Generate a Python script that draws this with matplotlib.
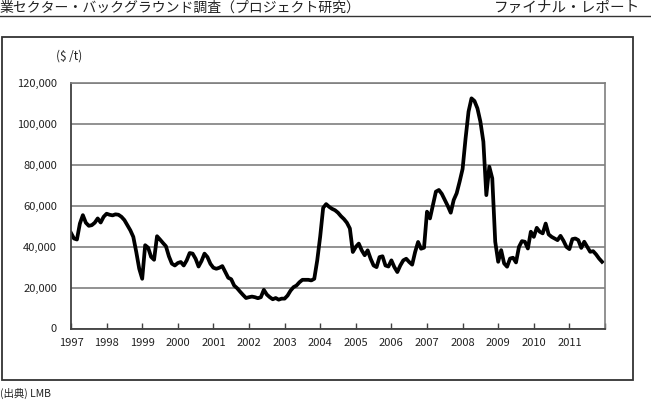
import matplotlib
matplotlib.use('Agg')
import matplotlib.pyplot as plt
from matplotlib.lines import Line2D
from matplotlib.patches import Rectangle
import numpy as np

plt.rcParams['font.family'] = ['Noto Sans CJK JP', 'DejaVu Sans']

# monthly price ($/t), Jan 1997 - Dec 2011
years = list(range(1997, 2012))
p1997 = [46700, 44000, 43500, 51300, 55400, 51700, 50200, 50500, 51700, 53800, 51800, 54600]
p1998 = [56100, 55600, 55300, 55800, 55600, 54600, 53000, 50500, 48000, 44800, 37400, 29200]
p1999 = [24300, 40700, 39500, 35000, 33600, 45100, 43500, 41800, 40200, 35300, 31700, 30800]
p2000 = [32000, 32500, 30800, 33300, 36900, 36600, 34100, 30300, 33000, 36600, 34900, 31600]
p2001 = [29700, 29200, 29700, 30500, 27600, 24800, 24100, 21000, 19700, 18000, 16400, 14900]
p2002 = [15300, 15600, 15300, 14800, 15300, 18900, 16600, 15300, 14300, 14900, 14100, 14600]
p2003 = [14600, 16100, 18500, 20200, 21000, 22600, 23800, 23800, 23800, 23500, 24300, 33300]
p2004 = [45000, 59000, 60800, 59500, 58500, 57800, 56600, 54900, 53500, 51700, 48900, 37400]
p2005 = [39900, 41500, 38200, 35800, 38200, 34100, 30800, 30000, 34900, 35300, 30800, 30300]
p2006 = [33300, 30000, 27600, 30800, 33300, 34100, 32500, 31200, 37400, 42300, 39000, 39500]
p2007 = [57100, 53800, 60400, 66900, 67700, 65800, 62800, 59900, 56600, 62800, 66100, 71800]
p2008 = [78000, 92900, 106000, 112500, 111200, 107600, 101100, 91300, 65200, 79100, 73400, 42400]
p2009 = [32600, 38300, 31800, 30200, 34200, 34600, 32300, 39900, 42700, 42400, 39100, 47300]
p2010 = [44800, 49200, 47300, 46500, 51300, 46000, 44800, 44000, 43200, 45300, 42900, 39900]
p2011 = [38800, 43700, 44000, 43200, 39400, 42400, 39900, 37500, 37800, 36200, 34200, 32600]

prices = (p1997 + p1998 + p1999 + p2000 + p2001 + p2002 + p2003 + p2004
          + p2005 + p2006 + p2007 + p2008 + p2009 + p2010 + p2011)
t = 1997 + np.arange(len(prices)) / 12.0

y_ticks = [0, 20000, 40000, 60000, 80000, 100000, 120000]
y_labels = ['0', '20,000', '40,000', '60,000', '80,000', '100,000', '120,000']

W, H = 651, 401
fig = plt.figure(figsize=(W / 100, H / 100), dpi=100)

# page header
fig.text(0.0, 1 - 7.5 / H, '業セクター・バックグラウンド調査（プロジェクト研究）',
         fontsize=10, va='center', ha='left', color='#222222')
fig.text(640 / W, 1 - 7.5 / H, 'ファイナル・レポート',
         fontsize=10.5, va='center', ha='right', color='#222222')
fig.add_artist(Line2D([0, 1], [1 - 15.5 / H, 1 - 15.5 / H], color='#333333', lw=1.0))

# frame around chart
fig.add_artist(Rectangle((2 / W, 1 - 379.5 / H), 631 / W, 343 / H,
                         fill=False, edgecolor='#333333', lw=1.3))

ax = fig.add_axes([71 / W, 1 - 328.5 / H, 534 / W, 245.5 / H])
ax.plot(t, prices, color='black', lw=2.7, solid_joinstyle='round')

ax.set_xlim(1997, 2012)
ax.set_ylim(0, 120000)
ax.set_yticks(y_ticks)
ax.set_yticklabels(y_labels)
ax.set_xticks(years + [2012])
ax.set_xticklabels([str(y) for y in years] + [''])

ax.yaxis.grid(True, color='#7f7f7f', lw=1.2)
ax.set_axisbelow(True)
ax.tick_params(axis='y', length=0, pad=10, labelsize=8, labelcolor='#222222')
ax.tick_params(axis='x', direction='in', length=4, width=1, color='#404040',
               pad=7, labelsize=8, labelcolor='#222222')
for side in ['top', 'right']:
    ax.spines[side].set_color('#7f7f7f')
    ax.spines[side].set_linewidth(1.2)
for side in ['left', 'bottom']:
    ax.spines[side].set_color('#404040')
    ax.spines[side].set_linewidth(1.3)

fig.text(69 / W, 1 - 56 / H, '($ /t)', fontsize=8.5, ha='center', va='center', color='#222222')
fig.text(0.0, 1 - 393 / H, '(出典) LMB', fontsize=7.5, ha='left', va='center', color='#222222')

fig.savefig('out.png', dpi=100)
